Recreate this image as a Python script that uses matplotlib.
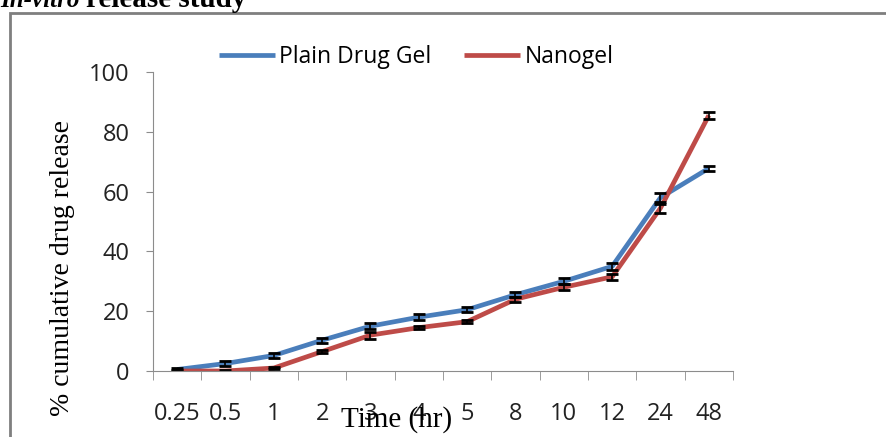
import numpy as np
import matplotlib.pyplot as plt
from matplotlib.patches import Rectangle

# --- données ---
time_labels = ["0.25", "0.5", "1", "2", "3", "4", "5", "8", "10", "12", "24", "48"]
plain_gel = [0.5, 2.5, 5.2, 10.3, 15.0, 18.0, 20.5, 25.5, 30.0, 35.0, 58.0, 67.8]
plain_err = [0.6, 0.7, 0.8, 0.9, 1.0, 0.9, 0.8, 0.8, 1.0, 1.2, 1.5, 0.8]
nanogel = [0.0, 0.0, 1.0, 6.5, 12.0, 14.5, 16.5, 24.0, 28.0, 31.5, 54.5, 85.5]
nanogel_err = [0.3, 0.3, 0.3, 0.5, 1.2, 0.6, 0.6, 0.8, 1.0, 1.0, 1.5, 1.2]

blue = "#4A7EBB"
red = "#BE4B48"
grey = "#8C8C8C"
sans = ["Open Sans", "DejaVu Sans"]
serif = ["Liberation Serif", "DejaVu Serif"]

fig = plt.figure(figsize=(8.87, 4.37), dpi=100)
ax = fig.add_axes([153 / 887, 1 - 371 / 437, 580 / 887, 299 / 437])

x = np.arange(len(time_labels))
ax.plot(x, plain_gel, color=blue, lw=3.4, label="Plain Drug Gel", solid_capstyle="butt")
ax.plot(x, nanogel, color=red, lw=3.4, label="Nanogel", solid_capstyle="butt")
ax.errorbar(x, plain_gel, yerr=plain_err, fmt="none", ecolor="black", elinewidth=1.2, capsize=4, capthick=2)
ax.errorbar(x, nanogel, yerr=nanogel_err, fmt="none", ecolor="black", elinewidth=1.2, capsize=4, capthick=2)

ax.set_xlim(-0.5, len(time_labels) - 0.5)
ax.set_ylim(0, 100)
ax.set_yticks([0, 20, 40, 60, 80, 100])
ax.set_xticks(x)
ax.set_xticklabels(time_labels)
ax.set_xticks(np.arange(-0.5, len(time_labels)), minor=True)
ax.tick_params(axis="x", which="major", length=0, pad=22)
ax.tick_params(axis="x", which="minor", length=6.5, color=grey)
ax.tick_params(axis="y", length=5, color=grey, pad=12)
for lab in ax.get_xticklabels() + ax.get_yticklabels():
    lab.set_family(sans)
    lab.set_fontsize(17)
    lab.set_color("#222222")

for side in ["top", "right"]:
    ax.spines[side].set_visible(False)
for side in ["left", "bottom"]:
    ax.spines[side].set_color(grey)

fig.text(63 / 887, 1 - 268 / 437, "% cumulative drug release", family=serif, fontsize=20,
         rotation=90, ha="center", va="center")
fig.text(397 / 887, 1 - 420 / 437, "Time (hr)", family=serif, fontsize=21, ha="center", va="center")

ax.legend(loc="center", bbox_to_anchor=(416 / 887, 1 - 57 / 437), bbox_transform=fig.transFigure,
          ncol=2, frameon=False, prop={"family": sans, "size": 16.5}, handlelength=2.45,
          columnspacing=1.4, handletextpad=0.2, borderpad=0, borderaxespad=0)

# cadre et titre
fig.patches.append(Rectangle((10 / 887, -0.05), 1.0, 1 - 13 / 437 + 0.05, transform=fig.transFigure,
                             fill=False, edgecolor="#7F7F7F", lw=2))
fig.text(0.0, 1 - 7 / 437, "In-vitro", family=serif, fontsize=18, weight="bold", style="italic",
         va="baseline")
fig.text(86 / 887, 1 - 7 / 437, "release study", family=serif, fontsize=21, weight="bold",
         va="baseline")

plt.savefig("out.png", dpi=100)
